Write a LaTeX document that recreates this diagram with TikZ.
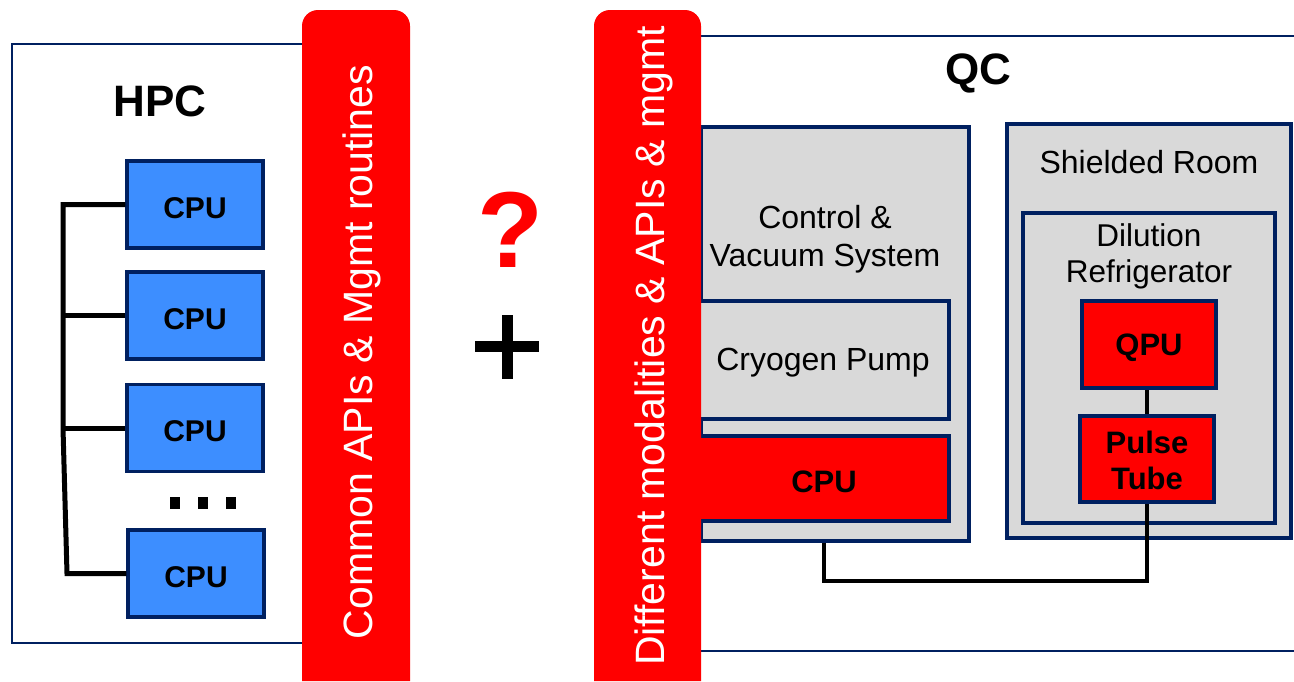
\documentclass[tikz,border=0pt]{standalone}
\usepackage{fontspec}
\setmainfont{Liberation Sans}
\definecolor{navy}{RGB}{0,32,96}
\definecolor{cpublue}{RGB}{61,142,255}
\definecolor{qgray}{RGB}{217,217,217}
\definecolor{bred}{RGB}{255,0,0}
\tikzset{
  outerline/.style={draw=navy, line width=1.5},
  cpubox/.style={draw=navy, fill=cpublue, line width=3.5, inner sep=0, minimum width=136, minimum height=87,
    font=\fontsize{30}{36}\selectfont\bfseries, text height=27.6pt, text depth=0pt},
  graybox/.style={draw=navy, fill=qgray, line width=3.5, inner sep=0},
  redbox/.style={draw=navy, fill=bred, line width=3.5, inner sep=0, font=\fontsize{31}{36}\selectfont\bfseries, align=center},
  plaintext/.style={font=\fontsize{32}{38}\selectfont, align=center, inner sep=0},
  title/.style={font=\fontsize{44}{50}\selectfont\bfseries, inner sep=0},
  bartext/.style={font=\fontsize{41}{48}\selectfont, text=white, inner sep=0, rotate=90},
  wire/.style={draw=black, line width=5},
}
\begin{document}
\begin{tikzpicture}[x=1pt,y=-1pt]
\useasboundingbox (0,0) rectangle (1294,681);
% ---------------- HPC ----------------
\node[outerline, fill=white, inner sep=0, minimum width=292, minimum height=599, anchor=north west] (hpc) at (11,43) {};
\node[title] (hpclbl) at (160,101) {HPC};
\node[cpubox] (cpu1) at (195,204.5) {CPU};
\node[cpubox] (cpu2) at (195,315.5) {CPU};
\node[cpubox] (cpu3) at (195,428) {CPU};
\node[cpubox] (cpu4) at (196,573.5) {CPU};
\coordinate (bt) at (63,204.5);
\coordinate (bm) at (63,428);
\coordinate (bb) at (67,573.5);
\draw[wire, line join=miter] (cpu1.west) -- (bt) -- (bm) -- (bb) -- (cpu4.west);
\draw[wire] (cpu2.west) -- (cpu2.west -| bt);
\draw[wire] (cpu3.west) -- (bm);
\fill (170,497) rectangle (180,509);
\fill (198,497) rectangle (208,509);
\fill (226,497) rectangle (236,509);
% red bar 1
\fill[bred, rounded corners=16] (302,681) -- (302,10) -- (410,10) -- (410,681);
\node[bartext] (api1) at (362,352) {Common APIs \& Mgmt routines};
% ---------------- middle ----------------
\node[font=\fontsize{108}{110}\selectfont\bfseries, text=bred, inner sep=0] (qm) at (510,230) {?};
\draw[line width=11] (475,346.5) -- (539,346.5);
\draw[line width=11] (507.5,315) -- (507.5,379);
% ---------------- QC ----------------
\coordinate (qtl) at (650,36);
\coordinate (qtr) at (1294,36);
\coordinate (qbl) at (650,651);
\coordinate (qbr) at (1294,651);
\draw[outerline] (qtl) -- (qtr);
\draw[outerline] (qbl) -- (qbr);
\node[title] (qclbl) at (978,73) {QC};
% control & vacuum system
\node[graybox, minimum width=268, minimum height=414, anchor=north west] (ctrl) at (699,125) {};
\node[plaintext] (ctrllbl) at (825,239) {Control \&\\Vacuum System};
\node[graybox, minimum width=250, minimum height=118] (cryo) at (824,360) {};
\node[plaintext] (cryolbl) at (823,363) {Cryogen Pump};
\node[redbox, minimum width=250, minimum height=85, text height=27.2pt, text depth=0pt] (cpuq) at (824,478.5) {CPU};
% shielded room
\node[graybox, minimum width=284, minimum height=414] (room) at (1149,331) {};
\node[plaintext] (roomlbl) at (1149,162) {Shielded Room};
\node[graybox, minimum width=252, minimum height=310] (dil) at (1149,368) {};
\node[plaintext, font=\fontsize{31.5}{36}\selectfont] (dillbl) at (1149,256) {Dilution\\Refrigerator};
\node[redbox, minimum width=134, minimum height=87, text height=22.2pt, text depth=0pt] (qpu) at (1149,344.5) {QPU};
\node[redbox, minimum width=134, minimum height=86] (pulse) at (1147,459) {};
\node[font=\fontsize{31}{36}\selectfont\bfseries, align=center, inner sep=0] (pulselbl) at (1147,460.5) {Pulse\\Tube};
\draw[wire, line width=4] (qpu.south -| pulse) -- (pulse.north);
\draw[wire, line width=4] (cpuq.south |- ctrl.south) -- ++(0,38) -| (pulse.south);
% red bar 2
\fill[bred, rounded corners=16] (594,681) -- (594,10) -- (701,10) -- (701,681);
\node[bartext] (api2) at (654,346) {Different modalities \& APIs \& mgmt};
\end{tikzpicture}
\end{document}
